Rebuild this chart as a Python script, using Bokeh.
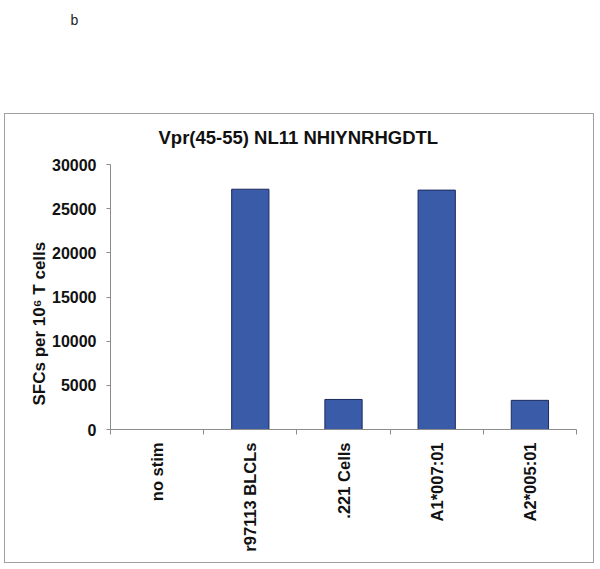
import math
from bokeh.plotting import figure
from bokeh.models import Range1d, FixedTicker, Title, InlineStyleSheet
from bokeh.embed import file_html
from bokeh.resources import INLINE

# ---- data ----
categories = ["no stim", "r97113 BLCLs", ".221 Cells", "A1*007:01", "A2*005:01"]
values = [0, 27200, 3400, 27100, 3300]
y_ticks = [0, 5000, 10000, 15000, 20000, 25000, 30000]
title_text = "Vpr(45-55) NL11 NHIYNRHGDTL"
y_label = "SFCs per 10\u2076 T cells"
panel_letter = "b"

FONT = "Liberation Sans"
TXT = "#111111"
n = len(categories)
x_pos = [i + 0.5 for i in range(n)]

p = figure(width=600, height=569, output_backend="svg", toolbar_location=None,
           x_range=Range1d(0, n), y_range=Range1d(0, 30000),
           min_border_left=110, min_border_right=24, min_border_top=164,
           min_border_bottom=140)
p.outline_line_color = None
p.xgrid.visible = False
p.ygrid.visible = False

p.vbar(x=x_pos, top=values, width=0.4,
       fill_color="#3A5BA8", line_color="#1B2A5C", line_width=1)

# chart title (nearest to the plot area)
p.add_layout(Title(text=title_text, align="left", offset=48, standoff=34,
                   text_font=FONT, text_font_style="bold",
                   text_font_size="18.5px", text_color=TXT), "above")
# spacer between chart title and panel letter
p.add_layout(Title(text=" ", standoff=59, text_font=FONT,
                   text_font_size="10px"), "above")
# panel letter (outermost, top of page)
p.title.text = panel_letter
p.title.align = "left"
p.title.offset = -40
p.title.standoff = 16
p.title.text_font = FONT
p.title.text_font_style = "normal"
p.title.text_font_size = "14px"
p.title.text_color = "#222222"

# y axis
ya = p.yaxis[0]
ya.ticker = FixedTicker(ticks=y_ticks)
ya.axis_line_color = "#8c8c8c"
ya.major_tick_line_color = "#8c8c8c"
ya.major_tick_out = 4
ya.major_tick_in = 0
ya.minor_tick_line_color = None
ya.major_label_text_font = FONT
ya.major_label_text_font_style = "bold"
ya.major_label_text_font_size = "16px"
ya.major_label_text_color = TXT
ya.major_label_standoff = 10

# y label as a side title (positioned along the axis)
p.add_layout(Title(text=y_label, align="left", offset=24, standoff=2,
                   text_font=FONT, text_font_style="bold",
                   text_font_size="17px", text_color=TXT), "left")

# x axis: labels at category centres, boundary ticks as minor ticks
xa = p.xaxis[0]
xa.ticker = FixedTicker(ticks=x_pos, minor_ticks=list(range(n + 1)))
xa.major_label_overrides = {x: c for x, c in zip(x_pos, categories)}
xa.major_label_orientation = math.pi / 2
xa.axis_line_color = "#8c8c8c"
xa.major_tick_line_color = None
xa.major_tick_out = 5
xa.major_tick_in = 0
xa.minor_tick_line_color = "#8c8c8c"
xa.minor_tick_out = 5
xa.minor_tick_in = 0
xa.major_label_standoff = 8
xa.major_label_text_font = FONT
xa.major_label_text_font_style = "bold"
xa.major_label_text_font_size = "16.5px"
xa.major_label_text_color = TXT

# outer grey frame around the chart area
p.stylesheets = [InlineStyleSheet(css="""
:host { position: relative; }
:host::after {
  content: "";
  position: absolute;
  left: 4px; top: 113px;
  width: 588px; height: 448px;
  border: 1.5px solid #a0a0a0;
  pointer-events: none;
}
""")]

open("out.html", "w").write(file_html(p, INLINE))
